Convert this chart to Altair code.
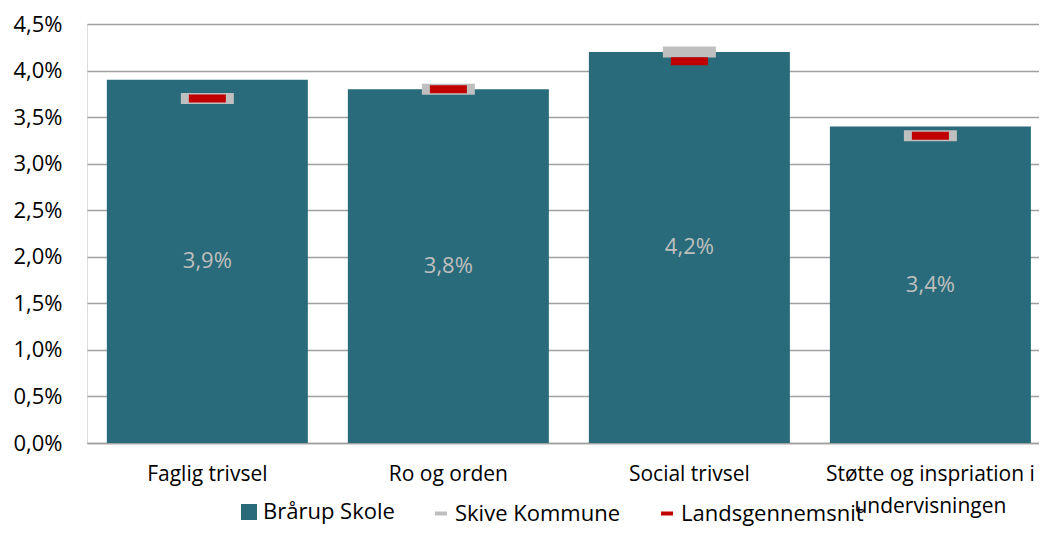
import altair as alt
import pandas as pd

categories = ["Faglig trivsel", "Ro og orden", "Social trivsel",
              "Støtte og inspriation i undervisningen"]
school = [3.9, 3.8, 4.2, 3.4]
kommune = [3.7, 3.8, 4.2, 3.3]
lands = [3.7, 3.8, 4.1, 3.3]
series = ["Brårup Skole", "Skive Kommune", "Landsgennemsnit"]
colors = ["#296b7b", "#bfbfbf", "#c00000"]
shapes = ["square", "stroke", "stroke"]
y_ticks = [0, 0.5, 1, 1.5, 2, 2.5, 3, 3.5, 4, 4.5]

FONT = "Open Sans"
FS = 22

df = pd.DataFrame({"cat": categories, "school": school,
                   "kommune": kommune, "lands": lands})
df["half"] = df["school"] / 2
df["lbl"] = [f"{v:.1f}".replace(".", ",") + "%" for v in school]

leg_df = pd.DataFrame({"series": series})

xenc = alt.X("cat:N", sort=categories, title=None,
             scale=alt.Scale(paddingInner=0.166, paddingOuter=0.058, align=0.71),
             axis=alt.Axis(labelAngle=0, labelFontSize=21, labelFont=FONT,
                           labelColor="#000000", labelPadding=20, ticks=False,
                           domainColor="#a0a0a0", domainWidth=1.5, labelLimit=400,
                           labelLineHeight=32,
                           labelExpr="datum.label == 'Støtte og inspriation i undervisningen' ? ['Støtte og inspriation i', 'undervisningen'] : datum.label"))

yscale = alt.Scale(domain=[0, 4.5], nice=False, zero=True)

bars = alt.Chart(df).mark_bar(color=colors[0]).encode(
    x=xenc,
    y=alt.Y("school:Q", scale=yscale, title=None,
            axis=alt.Axis(values=y_ticks, labelFontSize=FS, labelFont=FONT,
                          labelColor="#000000", ticks=False, domain=False,
                          labelPadding=25, gridColor="#a0a0a0", gridWidth=1.5,
                          labelExpr="replace(format(datum.value, '.1f'), '.', ',') + '%'")),
)

labels = alt.Chart(df).mark_text(fontSize=FS, font=FONT, color="#bfbfbf").encode(
    x=alt.X("cat:N", sort=categories),
    y=alt.Y("half:Q", scale=yscale),
    text="lbl:N",
)

tick_k = alt.Chart(df).mark_tick(size=53, thickness=11, opacity=1, color=colors[1]).encode(
    x=alt.X("cat:N", sort=categories),
    y=alt.Y("kommune:Q", scale=yscale),
)

tick_l = alt.Chart(df).mark_tick(size=37, thickness=8, opacity=1, color=colors[2]).encode(
    x=alt.X("cat:N", sort=categories),
    y=alt.Y("lands:Q", scale=yscale),
)


def leg():
    return alt.Legend(orient="none", legendX=151, legendY=477,
                      direction="horizontal", title=None, labelLimit=400)


legend_layer = alt.Chart(leg_df).mark_point(filled=True, opacity=0).encode(
    x=alt.value(0), y=alt.value(0),
    fill=alt.Fill("series:N", scale=alt.Scale(domain=series, range=colors),
                  sort=series, title=None, legend=leg()),
    stroke=alt.Stroke("series:N", scale=alt.Scale(domain=series, range=colors),
                      sort=series, title=None, legend=leg()),
    shape=alt.Shape("series:N", scale=alt.Scale(domain=series, range=shapes),
                    sort=series, title=None, legend=leg()),
)

chart = alt.layer(bars, labels, tick_k, tick_l, legend_layer).properties(
    width=952, height=419,
    autosize=alt.AutoSizeParams(type="none"),
    padding={"left": 79, "top": 16, "right": 0, "bottom": 84},
).configure_view(stroke=None).configure(background="#ffffff").configure_legend(
    labelFontSize=FS, labelFont=FONT, labelColor="#000000", labelLimit=400,
    symbolSize=144, symbolStrokeWidth=4,
    columnPadding=32, labelOffset=3, symbolOpacity=1,
)

chart.save("out.html", embed_options={"renderer": "svg", "actions": False})
